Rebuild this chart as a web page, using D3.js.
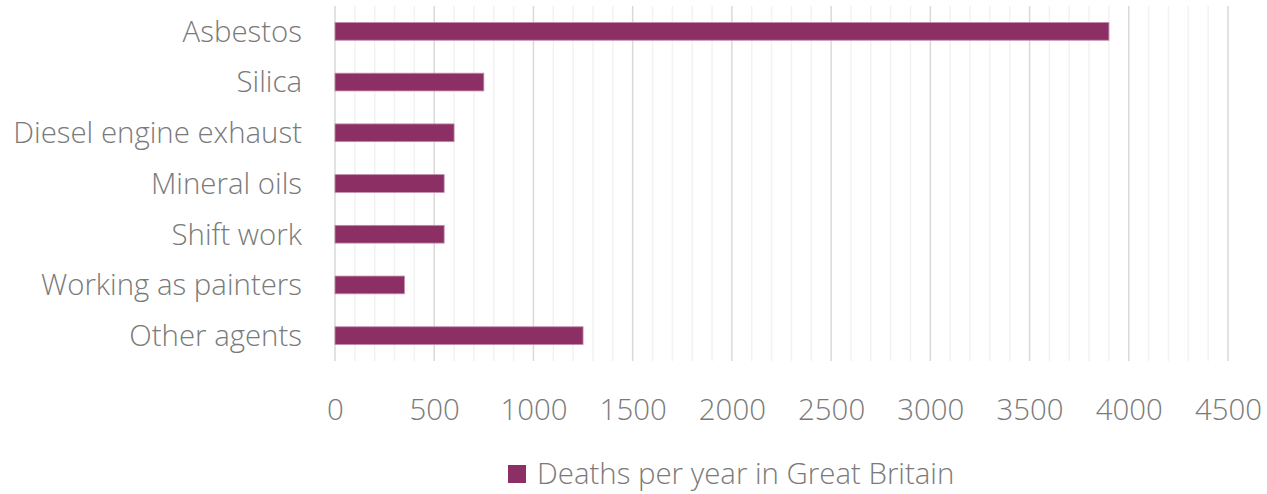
<!DOCTYPE html>
<html>
<head>
<meta charset="utf-8">
<script src="https://cdn.jsdelivr.net/npm/d3@7"></script>
<style>
  html, body { margin: 0; padding: 0; background: #fff; }
  svg text { font-family: "Segoe UI Light", "Segoe UI", "Open Sans", "Noto Sans", sans-serif; font-weight: 300; fill: #7a7a7a; }
</style>
</head>
<body>
<svg id="chart" width="1267" height="494"></svg>
<script>
const categories = ["Asbestos", "Silica", "Diesel engine exhaust", "Mineral oils", "Shift work", "Working as painters", "Other agents"];
const values = [3900, 750, 600, 550, 550, 350, 1250];
const seriesName = "Deaths per year in Great Britain";
const tickValues = [0, 500, 1000, 1500, 2000, 2500, 3000, 3500, 4000, 4500];
const minorTickValues = d3.range(0, 4501, 100);

const svg = d3.select("#chart");
const x = d3.scaleLinear().domain([0, 4500]).range([335, 1228]);
const y = d3.scaleBand().domain(categories).range([6, 361]).paddingInner(0.65).paddingOuter(0.325);

const fs = 29.4;

// minor grid
svg.append("g").selectAll("line").data(minorTickValues.filter(v => v % 500 !== 0)).join("line")
  .attr("x1", d => x(d)).attr("x2", d => x(d)).attr("y1", 6).attr("y2", 361)
  .attr("stroke", "#f2f2f2").attr("stroke-width", 1.5);
// major grid
svg.append("g").selectAll("line").data(tickValues).join("line")
  .attr("x1", d => x(d)).attr("x2", d => x(d)).attr("y1", 6).attr("y2", 361)
  .attr("stroke", "#d9d9d9").attr("stroke-width", 1.5);

// bars
svg.append("g").selectAll("rect").data(categories).join("rect")
  .attr("x", x(0)).attr("y", (d) => y(d))
  .attr("width", (d, i) => x(values[i]) - x(0))
  .attr("height", y.bandwidth())
  .attr("fill", "#8b2f64")
  .attr("stroke", "#c58aab").attr("stroke-width", 0.8);

// x axis labels
const xAxis = d3.axisBottom(x).tickValues(tickValues).tickFormat(d3.format("d")).tickSize(0).tickPadding(0);
const gx = svg.append("g").attr("transform", "translate(0,410)").call(xAxis);
gx.select(".domain").remove();
gx.selectAll("text").attr("dy", "0.35em").attr("font-size", fs).attr("font-family", null)
  .style("fill", "#7a7a7a");

// y axis labels
const yAxis = d3.axisLeft(y).tickSize(0).tickPadding(0);
const gy = svg.append("g").attr("transform", "translate(302,0)").call(yAxis);
gy.select(".domain").remove();
gy.selectAll("text").attr("dy", "0.35em").attr("font-size", fs).attr("font-family", null)
  .style("fill", "#7a7a7a");

// legend
const lg = svg.append("g").attr("transform", "translate(508,465)");
lg.append("rect").attr("width", 18).attr("height", 18).attr("fill", "#8b2f64");
lg.append("text").attr("x", 29).attr("y", 9).attr("dy", "0.35em").attr("font-size", fs).text(seriesName);
</script>
</body>
</html>
